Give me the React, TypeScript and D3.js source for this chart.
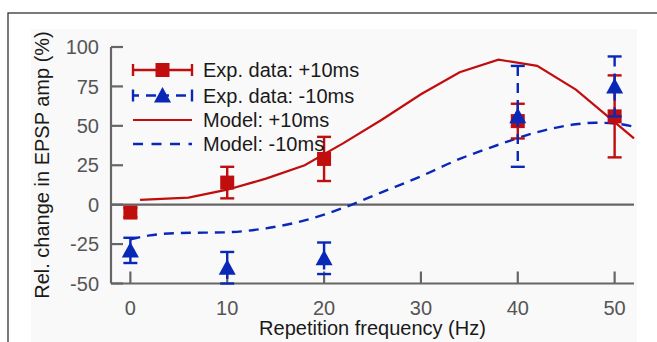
import * as d3 from 'd3';
import * as React from 'react';

// experimental data, +10ms pairing (red squares)
const expPlusFreq = [0, 10, 20, 40, 50];
const expPlusMean = [-5, 14, 29, 53, 56];
const expPlusErr = [3, 10, 14, 11, 26];

// experimental data, -10ms pairing (blue triangles)
const expMinusFreq = [0, 10, 20, 40, 50];
const expMinusMean = [-29, -40, -34, 56, 75];
const expMinusErr = [8, 10, 10, 32, 19];

// model curves
const modelPlusFreq = [1, 6, 10, 14, 18, 22, 26, 30, 34, 38, 42, 46, 52];
const modelPlusVal = [3, 4.5, 9.5, 16.5, 25, 39, 54, 70, 84, 92, 88, 73, 42];
const modelMinusFreq = [0, 2, 5, 10, 14, 18, 22, 26, 30, 34, 38, 42, 46, 48, 50, 52];
const modelMinusVal = [-22, -19.5, -18, -17.5, -15, -10, -2, 8, 18, 29, 38, 46, 51, 52, 51.5, 49.5];

const xTicks = [0, 10, 20, 30, 40, 50];
const yTicks = [-50, -25, 0, 25, 50, 75, 100];

const legendLabels = ['Exp. data: +10ms', 'Exp. data: -10ms', 'Model: +10ms', 'Model: -10ms'];

const RED = '#c00d0d';
const BLUE = '#0a28b8';
const AXIS = '#666';
const DASH = '10,7';
const FONT = '"Liberation Sans", Arial, Helvetica, sans-serif';

const App = () => {
  const ref = React.useRef<SVGSVGElement | null>(null);

  React.useEffect(() => {
    if (!ref.current) return;
    const svg = d3.select(ref.current);
    svg.selectAll('*').remove();

    const x = d3.scaleLinear().domain([-2, 52]).range([111, 634]);
    const y = d3.scaleLinear().domain([-50, 100]).range([283.5, 47]);

    // outer frame and plot background
    svg.append('rect').attr('x', 31).attr('y', 29).attr('width', 606).attr('height', 340).attr('fill', '#f9f9f9');
    svg
      .append('rect')
      .attr('x', 8)
      .attr('y', 13)
      .attr('width', 700)
      .attr('height', 400)
      .attr('fill', 'none')
      .attr('stroke', '#333')
      .attr('stroke-width', 1.3);

    // axes
    const ax = svg.append('g').attr('stroke', AXIS).attr('stroke-width', 2.2).attr('fill', 'none');
    ax.append('line').attr('x1', x(-2)).attr('x2', x(-2)).attr('y1', y(100)).attr('y2', y(-50));
    ax.append('line').attr('x1', x(-2)).attr('x2', x(52)).attr('y1', y(-50)).attr('y2', y(-50));
    ax.append('line').attr('x1', x(-2)).attr('x2', x(52)).attr('y1', y(0)).attr('y2', y(0));
    ax.selectAll('.yt')
      .data(yTicks)
      .enter()
      .append('line')
      .attr('x1', x(-2))
      .attr('x2', x(-2) + 12)
      .attr('y1', (d) => y(d))
      .attr('y2', (d) => y(d));
    ax.selectAll('.xt')
      .data(xTicks)
      .enter()
      .append('line')
      .attr('x1', (d) => x(d))
      .attr('x2', (d) => x(d))
      .attr('y1', y(-50))
      .attr('y2', y(-50) - 12);

    svg
      .selectAll('.ytl')
      .data(yTicks)
      .enter()
      .append('text')
      .attr('x', 99)
      .attr('y', (d) => y(d))
      .attr('dy', '0.36em')
      .attr('text-anchor', 'end')
      .attr('fill', '#555')
      .style('font', `20px ${FONT}`)
      .text((d) => d);
    svg
      .selectAll('.xtl')
      .data(xTicks)
      .enter()
      .append('text')
      .attr('x', (d) => x(d))
      .attr('y', 315)
      .attr('text-anchor', 'middle')
      .attr('fill', '#555')
      .style('font', `20px ${FONT}`)
      .text((d) => d);

    svg
      .append('text')
      .attr('x', 372.5)
      .attr('y', 335)
      .attr('text-anchor', 'middle')
      .attr('fill', '#1a1a1a')
      .style('font', `20px ${FONT}`)
      .text('Repetition frequency (Hz)');
    svg
      .append('text')
      .attr('transform', 'translate(49,165) rotate(-90)')
      .attr('text-anchor', 'middle')
      .attr('fill', '#1a1a1a')
      .style('font', `20px ${FONT}`)
      .text('Rel. change in EPSP amp (%)');

    // model lines
    const plusLine = d3
      .line<number>()
      .x((d, i) => x(modelPlusFreq[i]))
      .y((d) => y(d));
    const minusLine = d3
      .line<number>()
      .curve(d3.curveMonotoneX)
      .x((d, i) => x(modelMinusFreq[i]))
      .y((d) => y(d));

    svg
      .append('path')
      .attr('d', plusLine(modelPlusVal))
      .attr('fill', 'none')
      .attr('stroke', RED)
      .attr('stroke-width', 2.2);
    svg
      .append('path')
      .attr('d', minusLine(modelMinusVal))
      .attr('fill', 'none')
      .attr('stroke', BLUE)
      .attr('stroke-width', 2.4)
      .attr('stroke-dasharray', DASH);

    const square = (g, cx, cy) =>
      g.append('rect').attr('x', cx - 7).attr('y', cy - 7).attr('width', 14).attr('height', 14).attr('fill', RED);
    const triangle = (g, cx, cy) =>
      g
        .append('path')
        .attr('d', `M${cx},${cy - 8.5}L${cx + 8.5},${cy + 7}L${cx - 8.5},${cy + 7}Z`)
        .attr('fill', BLUE);

    const errBar = (g, cx, lo, hi, color, dash) => {
      const e = g.append('g').attr('stroke', color).attr('stroke-width', 2.4);
      e.append('line').attr('x1', cx).attr('x2', cx).attr('y1', lo).attr('y2', hi).attr('stroke-dasharray', dash);
      e.append('line').attr('x1', cx - 7).attr('x2', cx + 7).attr('y1', lo).attr('y2', lo);
      e.append('line').attr('x1', cx - 7).attr('x2', cx + 7).attr('y1', hi).attr('y2', hi);
    };

    // experimental data
    const redG = svg.append('g');
    expPlusFreq.forEach((f, i) => {
      errBar(redG, x(f), y(expPlusMean[i] - expPlusErr[i]), y(expPlusMean[i] + expPlusErr[i]), RED, null);
      square(redG, x(f), y(expPlusMean[i]));
    });
    const blueG = svg.append('g');
    expMinusFreq.forEach((f, i) => {
      errBar(blueG, x(f), y(expMinusMean[i] + expMinusErr[i]), y(expMinusMean[i] - expMinusErr[i]), BLUE, DASH);
      triangle(blueG, x(f), y(expMinusMean[i]));
    });

    // legend
    const lx0 = 133;
    const lx1 = 192;
    const rows = [70, 95.5, 120, 144];
    const lg = svg.append('g');
    const capLine = (y0, color, dash) => {
      const e = lg.append('g').attr('stroke', color).attr('stroke-width', 2.4);
      e.append('line').attr('x1', lx0).attr('x2', lx1).attr('y1', y0).attr('y2', y0).attr('stroke-dasharray', dash);
      e.append('line').attr('x1', lx0).attr('x2', lx0).attr('y1', y0 - 6).attr('y2', y0 + 6);
      e.append('line').attr('x1', lx1).attr('x2', lx1).attr('y1', y0 - 6).attr('y2', y0 + 6);
    };
    capLine(rows[0], RED, null);
    square(lg, (lx0 + lx1) / 2, rows[0]);
    capLine(rows[1], BLUE, '6,7,10,7');
    triangle(lg, (lx0 + lx1) / 2, rows[1]);
    lg.append('line')
      .attr('x1', lx0)
      .attr('x2', lx1)
      .attr('y1', rows[2])
      .attr('y2', rows[2])
      .attr('stroke', RED)
      .attr('stroke-width', 2.2);
    lg.append('line')
      .attr('x1', lx0)
      .attr('x2', lx1)
      .attr('y1', rows[3])
      .attr('y2', rows[3])
      .attr('stroke', BLUE)
      .attr('stroke-width', 2.4)
      .attr('stroke-dasharray', '10,8.5');
    lg.selectAll('.lt')
      .data(legendLabels)
      .enter()
      .append('text')
      .attr('x', 203)
      .attr('y', (d, i) => rows[i])
      .attr('dy', '0.36em')
      .attr('fill', '#1a1a1a')
      .style('font', `20px ${FONT}`)
      .text((d) => d);
  }, []);

  return (
    <svg
      ref={ref}
      width={657}
      height={342}
      style={{ position: 'absolute', left: 0, top: 0, background: '#fff' }}
    />
  );
};

export default App;
